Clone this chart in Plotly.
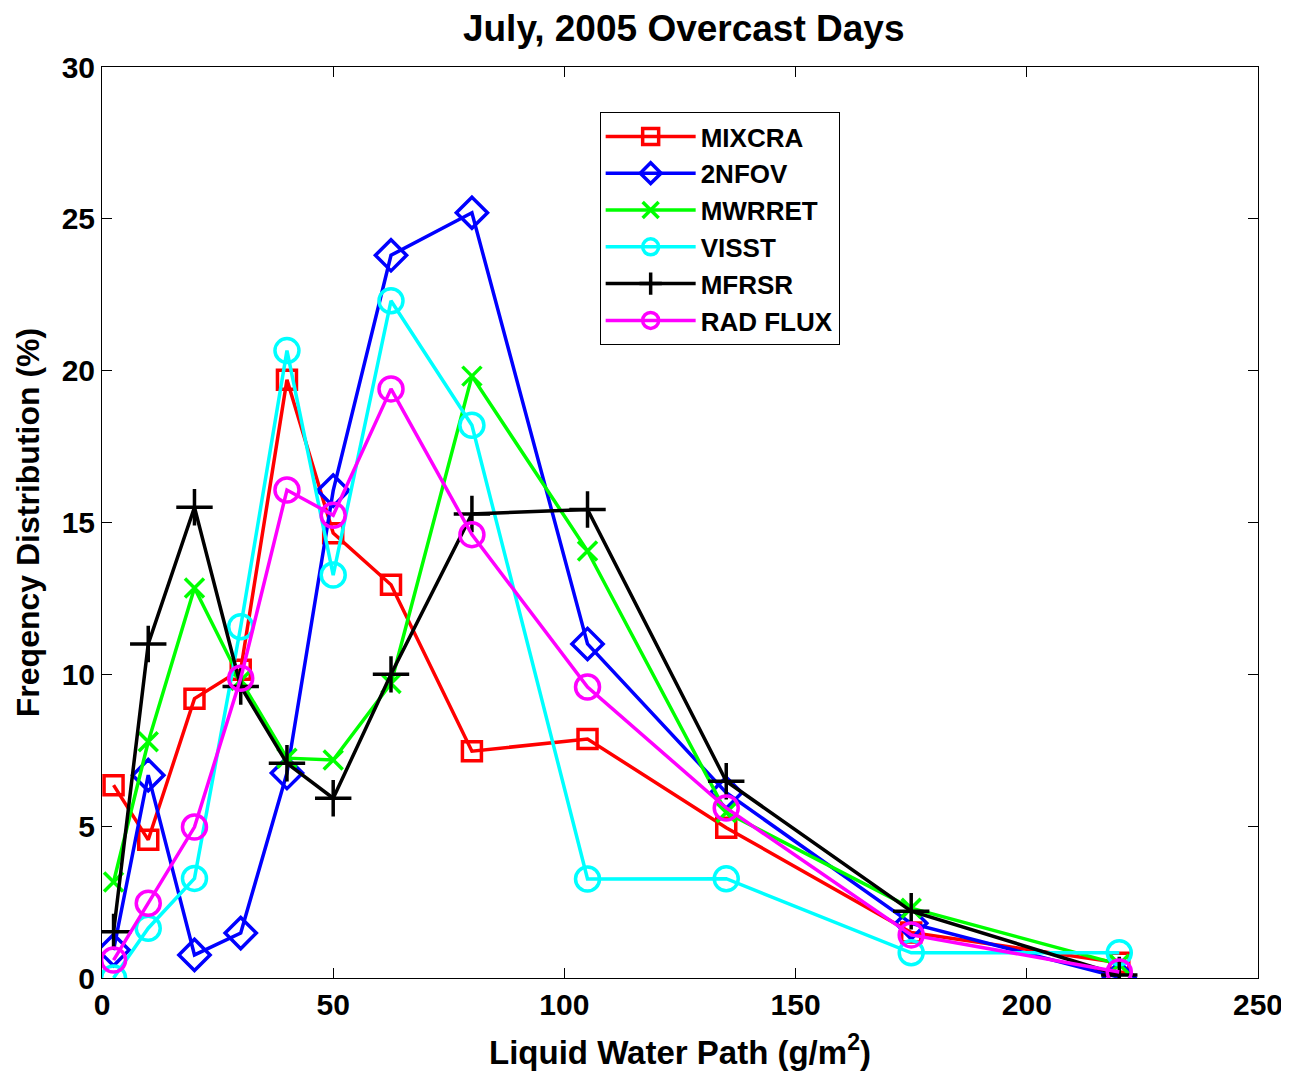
import plotly.graph_objects as go

lwp = [2.5, 10, 20, 30, 40, 50, 62.5, 80, 105, 135, 175, 220]

mixcra = [6.35, 4.55, 9.2, 10.15, 19.7, 14.65, 12.95, 7.47, 7.87, 4.95, 1.5, 0.5]
nfov2 = [0.92, 6.68, 0.76, 1.48, 6.75, 16.05, 23.8, 25.2, 11.0, 6.1, 1.8, 0.02]
mwrret = [3.16, 7.78, 12.84, 9.8, 7.24, 7.18, 9.7, 19.82, 14.06, 5.45, 2.3, 0.45]
visst = [0.0, 1.64, 3.28, 11.57, 20.66, 13.27, 22.3, 18.2, 3.26, 3.27, 0.83, 0.83]
mfrsr = [1.52, 11.0, 15.5, 9.6, 7.07, 5.92, 10.0, 15.28, 15.43, 6.48, 2.2, 0.1]
radflux = [0.59, 2.46, 4.97, 9.87, 16.07, 15.24, 19.4, 14.6, 9.58, 5.6, 1.42, 0.2]

series = [
    ("MIXCRA", mixcra, "#FF0000", "square-open", 19),
    ("2NFOV", nfov2, "#0000FF", "diamond-open", 24),
    ("MWRRET", mwrret, "#00FF00", "x-thin-open", 19),
    ("VISST", visst, "#00FFFF", "circle-open", 24),
    ("MFRSR", mfrsr, "#000000", "cross-thin-open", 26),
    ("RAD FLUX", radflux, "#FF00FF", "circle-open", 24),
]

fig = go.Figure()
for name, vals, color, sym, size in series:
    fig.add_trace(go.Scatter(
        x=lwp, y=vals, name=name, mode="lines+markers",
        line=dict(color=color, width=3.5),
        marker=dict(symbol=sym, size=size, color=color,
                    line=dict(color=color, width=3.5)),
    ))

font_family = "Liberation Sans, Arial, sans-serif"

fig.update_layout(
    width=1281, height=1064,
    margin=dict(l=94, r=31, t=59, b=94, autoexpand=False),
    paper_bgcolor="white", plot_bgcolor="white",
    font=dict(family=font_family, size=30, color="black", weight="bold"),
    title=dict(text="July, 2005 Overcast Days", x=0.5275, xanchor="center",
               y=0.981, yanchor="middle",
               font=dict(size=37, family=font_family, weight="bold")),
    xaxis=dict(range=[0, 250], dtick=50, tick0=0, showgrid=False, zeroline=False,
               showline=True, linecolor="black", linewidth=1, mirror="ticks",
               ticks="inside", ticklen=10, tickcolor="black", automargin=False,
               tickfont=dict(size=30, weight="bold"),
               title=dict(text="Liquid Water Path (g/m<sup>2</sup>)",
                          font=dict(size=33, weight="bold"), standoff=20)),
    yaxis=dict(range=[0, 30], dtick=5, tick0=0, showgrid=False, zeroline=False,
               showline=True, linecolor="black", linewidth=1, mirror="ticks",
               ticks="inside", ticklen=10, tickcolor="black", automargin=False,
               tickfont=dict(size=30, weight="bold"),
               title=dict(text="Freqency Distribution (%)",
                          font=dict(size=32, weight="bold"), standoff=12)),
    legend=dict(x=0.4305, y=0.9506, xanchor="left", yanchor="top",
                bgcolor="white", bordercolor="black", borderwidth=1,
                font=dict(size=26, weight="bold"), itemwidth=90,
                tracegroupgap=0),
    showlegend=True,
)

fig.write_html("out.html")
